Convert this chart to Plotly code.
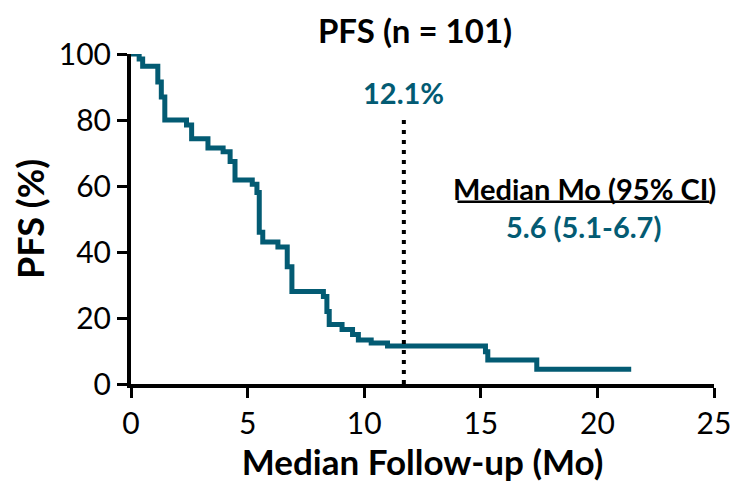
import plotly.graph_objects as go

# Kaplan-Meier PFS step data (months, % progression-free)
months = [0, 0.35, 0.5, 1.15, 1.3, 1.45, 2.38, 2.6, 3.3, 3.95, 4.25, 4.46, 5.2, 5.4, 5.5, 5.65,
          6.3, 6.7, 6.9, 8.25, 8.4, 8.5, 9.05, 9.5, 9.75, 10.3, 11.0, 15.2, 15.3, 17.4, 21.45]
pfs = [100, 98.5, 96.3, 91.5, 87, 80, 78.5, 74.3, 71.5, 70.4, 67.4, 61.8, 60.5, 58, 46, 43,
       41.5, 35.5, 28, 26.5, 22, 18, 16.5, 15, 13.3, 12.4, 11.5, 9.8, 7.3, 4.5, 4.5]

median_followup = 11.7
followup_pfs_top = 81.5
followup_label = "12.1%"
median_label = "Median Mo (95% CI)"
median_value = "5.6 (5.1-6.7)"

x_ticks = [0, 5, 10, 15, 20, 25]
y_ticks = [0, 20, 40, 60, 80, 100]

TEAL = "#035b73"
FONT = "Lato"

fig = go.Figure()
fig.add_trace(go.Scatter(x=months, y=pfs, mode="lines", line=dict(shape="hv", color=TEAL, width=5),
                         showlegend=False, hoverinfo="skip", cliponaxis=False))
fig.add_trace(go.Scatter(x=[median_followup, median_followup], y=[0, followup_pfs_top], mode="lines",
                         line=dict(color="black", width=4, dash="4px,6px"), showlegend=False))

fig.add_annotation(x=median_followup, y=88.2, text="<b>" + followup_label + "</b>",
                   showarrow=False, yanchor="middle", xanchor="center",
                   font=dict(family=FONT, size=29, color=TEAL))
fig.add_annotation(x=19.43, y=59.3, text="<b>" + median_label + "</b>", showarrow=False,
                   xanchor="center", yanchor="middle", font=dict(family=FONT, size=29, color="black"))
fig.add_annotation(x=19.4, y=47.6, text="<b>" + median_value + "</b>", showarrow=False,
                   xanchor="center", yanchor="middle", font=dict(family=FONT, size=29, color=TEAL))
fig.add_shape(type="line", x0=14.0, x1=24.8, y0=55.2, y1=55.2, line=dict(color="black", width=2.5))

# page body has an 8px default margin; margins compensate for it
fig.update_layout(
    width=738, height=481,
    margin=dict(l=123, r=32, t=46, b=105),
    plot_bgcolor="white", paper_bgcolor="white",
    title=dict(text="<b>PFS (n = 101)</b>", x=0.5515, xanchor="center", y=0.951, yanchor="middle",
               font=dict(family=FONT, size=33, color="black")),
    xaxis=dict(range=[0, 25], tickvals=x_ticks, showline=True, linecolor="black", linewidth=4,
               ticks="outside", ticklen=10, tickwidth=3, tickcolor="black", showgrid=False, zeroline=False,
               automargin=False,
               tickfont=dict(family=FONT, size=30, color="black"),
               title=dict(text="<b>Median Follow-up (Mo)</b>", font=dict(family=FONT, size=35, color="black"),
                          standoff=2)),
    yaxis=dict(range=[0, 100], tickvals=y_ticks, showline=True, linecolor="black", linewidth=4,
               ticks="outside", ticklen=10, tickwidth=3, tickcolor="black", showgrid=False, zeroline=False,
               automargin=False,
               tickfont=dict(family=FONT, size=30, color="black"),
               title=dict(text="<b>PFS (%)</b>", font=dict(family=FONT, size=36, color="black"), standoff=6)),
)

fig.write_html("out.html")
